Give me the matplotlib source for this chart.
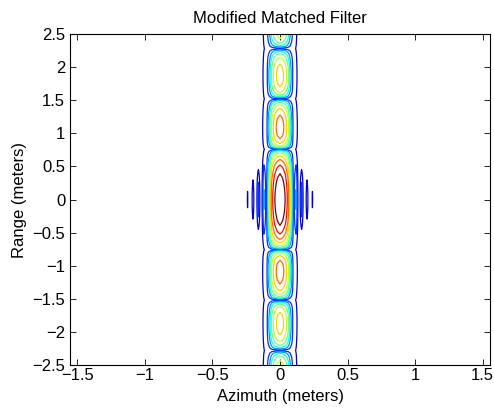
import numpy as np
import matplotlib
matplotlib.use("Agg")
import matplotlib.pyplot as plt

# Azimuth response, sampled every 0.02 m (dB), from x = 0 outward
azimuth_step = 0.02
azimuth_profile_db = [0.0, -1.5, -4.5, -10.0, -22.0, -80.0,
                      -35.5, -80.0, -34.3, -80.0, -37.8, -80.0,
                      -39.7, -80.0, -80.0, -80.0, -80.0]
# Low-level clutter floor across the azimuth main lobe (dB)
background_db = [-38.0, -38.0, -38.0, -38.0, -38.0, -38.0,
                 -40.5, -80.0, -80.0, -80.0, -80.0, -80.0,
                 -80.0, -80.0, -80.0, -80.0, -80.0]

# Range response parameters (meters)
range_null_spacing = 0.76          # spacing of range nulls
range_sidelobe_gain = 1.5          # sidelobe boost of the modified filter
range_step = 0.038
floor_db = -45.0

contour_levels_db = [-40, -36, -32, -28, -24, -20, -16, -12, -8, -4]

title = "Modified Matched Filter"
xlabel = "Azimuth (meters)"
ylabel = "Range (meters)"
xticks = [-1.5, -1, -0.5, 0, 0.5, 1, 1.5]
yticks = [-2.5, -2, -1.5, -1, -0.5, 0, 0.5, 1, 1.5, 2, 2.5]


def mirror(half):
    half = np.asarray(half, dtype=float)
    return np.concatenate([half[:0:-1], half])


n = len(azimuth_profile_db)
az = azimuth_step * np.arange(-(n - 1), n)
a_lin = 10 ** (mirror(azimuth_profile_db) / 20)
b_lin = 10 ** (mirror(background_db) / 20)

# Range axis and profile
m = int(np.ceil(2.6 / range_step))
rg = range_step * np.arange(-m, m + 1)
u = rg / range_null_spacing
r_lin = np.abs(np.sinc(u)) * np.where(np.abs(u) < 1 - 1e-9, 1.0, range_sidelobe_gain)

X, Y = np.meshgrid(az, rg)
F = r_lin[:, None] * a_lin[None, :] + b_lin[None, :]
Z = np.maximum(20 * np.log10(F + 1e-12), floor_db)

fig = plt.figure(figsize=(4.94, 4.08), dpi=100)
ax = fig.add_axes([70 / 494, 43 / 408, 420 / 494, 331 / 408])

cmap = plt.get_cmap("jet")
colors = [cmap(v) for v in np.linspace(0.07, 1.0, len(contour_levels_db))]
ax.contour(X, Y, Z, levels=contour_levels_db, colors=colors, linewidths=0.9)

ax.set_xlim(-1.554, 1.554)
ax.set_ylim(-2.5, 2.5)
ax.set_xticks(xticks)
ax.set_yticks(yticks)
ax.set_xticklabels([f"{t:g}".replace("-", "\u2212") for t in xticks])
ax.set_yticklabels([f"{t:g}".replace("-", "\u2212") for t in yticks])
ax.tick_params(direction="in", top=True, right=True, length=4, width=0.6,
               labelsize=12)
ax.tick_params(axis="y", pad=3.5)
ax.tick_params(axis="x", pad=2.5)
for s in ax.spines.values():
    s.set_linewidth(0.8)

font = "Liberation Sans"
for lbl in ax.get_xticklabels() + ax.get_yticklabels():
    lbl.set_fontfamily(font)
ax.set_title(title, fontsize=12, fontfamily=font, pad=8)
ax.set_xlabel(xlabel, fontsize=12, fontfamily=font, labelpad=4)
ax.set_ylabel(ylabel, fontsize=12, fontfamily=font, labelpad=4)

fig.savefig("out.png", dpi=100)
